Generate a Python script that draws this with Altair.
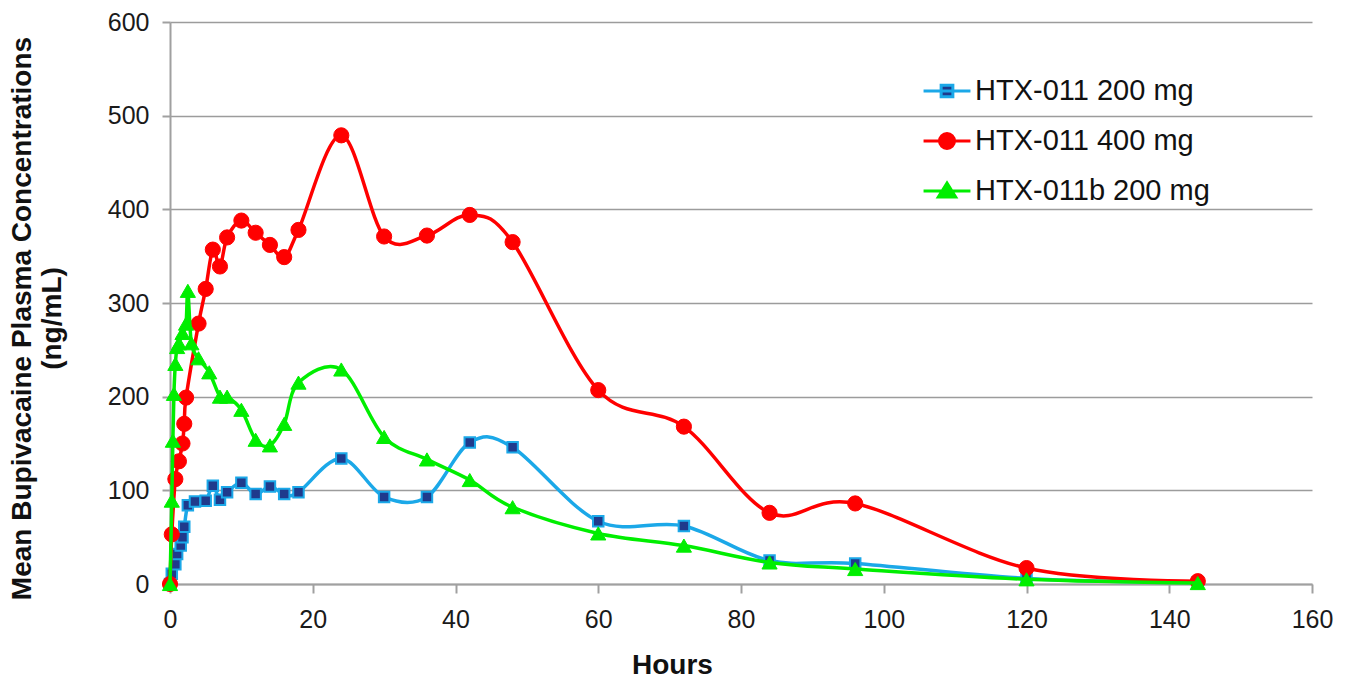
import altair as alt
import pandas as pd

series_names = ["HTX-011 200 mg", "HTX-011 400 mg", "HTX-011b 200 mg"]

hours_200 = [0, 0.25, 0.75, 1, 1.5, 1.75, 2, 2.5, 3.5, 5, 6, 7, 8, 10, 12, 14, 16, 18,
             24, 30, 36, 42, 48, 60, 72, 84, 96, 120, 144]
conc_200 = [0, 11, 21, 32, 41, 50, 61, 84, 88, 89, 105, 90, 98, 108, 96, 104, 96, 98,
            134, 93, 93, 151, 146, 67, 62, 25, 22, 6, 2]

hours_400 = [0, 0.25, 0.75, 1.25, 1.75, 2, 2.25, 4, 5, 6, 7, 8, 10, 12, 14, 16, 18,
             24, 30, 36, 42, 48, 60, 72, 84, 96, 120, 144]
conc_400 = [0, 53, 112, 131, 150, 171, 199, 278, 315, 357, 339, 370, 388, 375, 362, 349, 378,
            479, 371, 372, 394, 365, 207, 168, 76, 86, 17, 3]

hours_b200 = [0, 0.25, 0.4, 0.55, 0.75, 1, 1.25, 1.75, 2.25, 2.5, 3, 4, 5.5, 7, 8, 10, 12, 14, 16, 18,
              24, 30, 36, 42, 48, 60, 72, 84, 96, 120, 144]
conc_b200 = [0, 89, 153, 203, 235, 253, 257, 268, 278, 313, 257, 241, 226, 200, 200, 186, 154, 148, 171, 215,
             229, 157, 133, 111, 82, 54, 41, 23, 16, 5, 1]

x_ticks = [0, 20, 40, 60, 80, 100, 120, 140, 160]
y_ticks = [0, 100, 200, 300, 400, 500, 600]

line_colors = ["#1BA8E8", "#FF0000", "#00EE00"]
marker_fills = ["#1F3A8C", "#FF0000", "#00EE00"]
marker_shapes = ["square", "circle", "triangle-up"]
marker_sizes = [110, 230, 230]
legend_paths = [
    "M-1,0H1M-0.25,-0.25H0.25V0.25H-0.25Z",
    "M-1,0H1M0.32,0A0.32,0.32 0 1,1 -0.32,0A0.32,0.32 0 1,1 0.32,0Z",
    "M-1,0H1M0,-0.34L0.37,0.26H-0.37Z",
]

rows = []
for name, hs, cs in zip(series_names, [hours_200, hours_400, hours_b200],
                        [conc_200, conc_400, conc_b200]):
    for h, c in zip(hs, cs):
        rows.append({"series": name, "hours": h, "conc": c})
df = pd.DataFrame(rows)

FONT = "Liberation Sans"

x = alt.X(
    "hours:Q",
    scale=alt.Scale(domain=[0, 160], nice=False),
    axis=alt.Axis(
        values=x_ticks, grid=False, title="Hours", labelFlush=False,
        titleX=502, titleY=89, titleBaseline="alphabetic", titleAlign="center",
        labelPadding=14, tickSize=9,
    ),
)
y = alt.Y(
    "conc:Q",
    scale=alt.Scale(domain=[0, 600], nice=False),
    axis=alt.Axis(
        values=y_ticks, grid=True, labelFlush=False,
        title=["Mean Bupivacaine Plasma Concentrations", "(ng/mL)"],
        titleX=-162, titleY=296, titleBaseline="top", titleAlign="center",
        titleLineHeight=30, labelPadding=13, tickSize=8,
    ),
)

base = alt.Chart(df)
layers = []
for i, name in enumerate(series_names):
    sub = base.transform_filter(alt.datum.series == name)
    layers.append(
        sub.mark_line(interpolate="cardinal", strokeWidth=3.5, color=line_colors[i])
        .encode(x=x, y=y)
    )
    layers.append(
        sub.mark_point(
            filled=True, shape=marker_shapes[i], size=marker_sizes[i],
            fill=marker_fills[i], stroke=line_colors[i],
            strokeWidth=2 if i == 0 else 1, opacity=1,
        ).encode(x=x, y=y)
    )

leg = alt.Legend(
    title=None, orient="none", legendX=752, legendY=44, direction="vertical",
    symbolSize=2200, symbolStrokeWidth=3, symbolOpacity=1,
    labelFont=FONT, labelFontSize=29, labelColor="#111111", labelLimit=500,
    labelOffset=3, rowPadding=10, padding=0,
)
legend_layer = base.transform_filter("datum.hours < 0").mark_point(
    filled=True, strokeWidth=3, opacity=1
).encode(
    x=x, y=y,
    shape=alt.Shape("series:N", scale=alt.Scale(domain=series_names, range=legend_paths), legend=leg),
    fill=alt.Fill("series:N", scale=alt.Scale(domain=series_names, range=marker_fills), legend=leg),
    stroke=alt.Stroke("series:N", scale=alt.Scale(domain=series_names, range=line_colors), legend=leg),
)
layers.append(legend_layer)

chart = alt.layer(*layers).properties(
    width=1142, height=562,
    padding={"left": 170, "top": 22, "right": 41, "bottom": 95},
    autosize=alt.AutoSizeParams(type="none"),
    background="white",
).configure_view(
    strokeWidth=0
).configure_axis(
    labelFont=FONT, labelFontSize=25, labelColor="#1a1a1a",
    titleFont=FONT, titleFontSize=28, titleFontWeight="bold", titleColor="#111111",
    domainColor="#a0a0a0", domainWidth=2, tickColor="#a0a0a0", tickWidth=2,
    gridColor="#9c9c9c", gridWidth=1.5,
)

chart.save("out.html", embed_options={"renderer": "svg", "actions": False})
